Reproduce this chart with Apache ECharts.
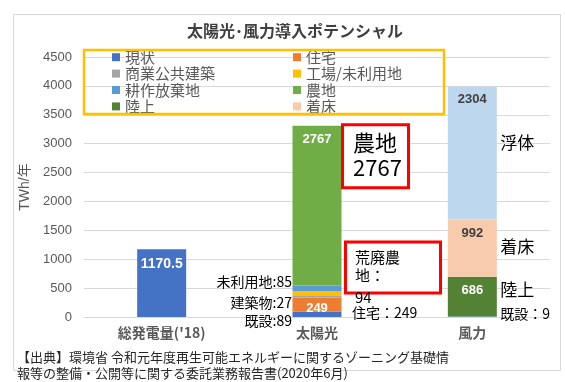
<!DOCTYPE html>
<html>
<head>
<meta charset="utf-8">
<script src="https://cdn.jsdelivr.net/npm/echarts@6/dist/echarts.min.js"></script>
<style>html,body{margin:0;padding:0;background:#fff}#c{width:565px;height:382px}</style>
</head>
<body>
<div id="c"></div>
<script>
const categories = ["総発電量('18)", '太陽光', '風力'];
const yTicks = [0, 500, 1000, 1500, 2000, 2500, 3000, 3500, 4000, 4500];
const genjo = [1170.5, 89, 9];
const jutaku = [null, 249, null];
const shogyo = [null, 27, null];
const kojo = [null, 85, null];
const kosaku = [null, 94, null];
const nochi = [null, 2767, null];
const rikujo = [null, null, 686];
const chakusho = [null, null, 992];
const futai = [null, null, 2304];

const FONT = "'Liberation Sans', 'Noto Sans CJK JP', sans-serif";
const chart = echarts.init(document.getElementById('c'), null, {renderer: 'canvas'});

function lbl(color, pos, extra) {
  return Object.assign({show: true, position: pos || 'insideTop', distance: 7, color: color, fontWeight: 'bold', fontSize: 13, fontFamily: FONT}, extra || {});
}
function ser(name, data, color, label) {
  return {name: name, type: 'bar', stack: 'a', data: data, barWidth: 49, itemStyle: {color: color}, label: label || {show: false}, animation: false};
}

const option = {
  animation: false,
  textStyle: {fontFamily: FONT},
  title: {text: '太陽光･風力導入ポテンシャル', left: 182, top: 18, textStyle: {fontSize: 16, fontWeight: 'bold', color: '#404040', fontFamily: "'Noto Sans CJK JP', sans-serif"}},
  legend: [
    {left: 112, top: 49, orient: 'vertical', padding: 0, itemWidth: 8, itemHeight: 8, itemGap: 0, icon: 'rect', selectedMode: false,
     data: ['現状', '商業公共建築', '耕作放棄地', '陸上'], textStyle: {fontSize: 15, color: '#595959', lineHeight: 16.4, fontFamily: "'Noto Sans CJK JP', sans-serif"}},
    {left: 293, top: 49, orient: 'vertical', padding: 0, itemWidth: 8, itemHeight: 8, itemGap: 0, icon: 'rect', selectedMode: false,
     data: ['住宅', '工場/未利用地', '農地', '着床'], textStyle: {fontSize: 15, color: '#595959', lineHeight: 16.4, fontFamily: "'Noto Sans CJK JP', sans-serif"}}
  ],
  grid: {left: 84, right: 15, top: 57, bottom: 65, containLabel: false},
  xAxis: {type: 'category', data: categories, axisTick: {show: false}, axisLine: {lineStyle: {color: '#D9D9D9'}},
    axisLabel: {margin: 9, fontSize: 14, fontWeight: 'bold', color: '#595959', fontFamily: "'Noto Sans CJK JP', sans-serif"}},
  yAxis: {type: 'value', min: yTicks[0], max: yTicks[yTicks.length - 1], interval: 500,
    name: 'TWh/年', nameLocation: 'middle', nameGap: 52, nameTextStyle: {fontSize: 14, color: '#595959'},
    axisLine: {show: false}, axisTick: {show: false},
    axisLabel: {margin: 12, fontSize: 13, color: '#595959', formatter: v => String(v)},
    splitLine: {lineStyle: {color: '#D9D9D9'}}},
  series: [
    ser('現状', genjo, '#4472C4', {show: true, position: 'insideTop', distance: 8, color: '#fff', fontWeight: 'bold', fontSize: 14,
      formatter: p => p.dataIndex === 0 ? String(p.value) : ''}),
    ser('住宅', jutaku, '#ED7D31', lbl('#fff', 'inside', {offset: [0, 4]})),
    ser('商業公共建築', shogyo, '#A5A5A5'),
    ser('工場/未利用地', kojo, '#FFC000'),
    ser('耕作放棄地', kosaku, '#5B9BD5'),
    ser('農地', nochi, '#70AD47', lbl('#fff')),
    ser('陸上', rikujo, '#548235', lbl('#fff')),
    ser('着床', chakusho, '#F8CBAD', lbl('#404040')),
    ser('浮体', futai, '#BDD7EE', lbl('#404040'))
  ]
};
chart.setOption(option);

const xs = chart.convertToPixel({xAxisIndex: 0}, categories[1]);
const xw = chart.convertToPixel({xAxisIndex: 0}, categories[2]);
const Y = v => chart.convertToPixel({yAxisIndex: 0}, v);
const solarTop = Y(genjo[1] + jutaku[1] + shogyo[1] + kojo[1] + kosaku[1] + nochi[1]);
const JP = "'Noto Sans CJK JP', sans-serif";
function txt(x, y, s, size, align, color) {
  return {type: 'text', x: x, y: y, style: {text: s, fontSize: size, fontFamily: JP, fill: color || '#000', align: align || 'left', verticalAlign: 'middle'}, z: 100};
}
const y0 = Y(0);
chart.setOption({
  graphic: [
    {type: 'rect', shape: {x: 13.5, y: 14.5, width: 547, height: 356}, style: {fill: 'none', stroke: '#D9D9D9', lineWidth: 1}, z: 0},
    {type: 'rect', shape: {x: 84, y: 50, width: 360, height: 64}, style: {fill: 'none', stroke: '#FFC000', lineWidth: 2.5}, z: 50},
    // red box 1
    {type: 'rect', shape: {x: xs + 25.5, y: solarTop - 1, width: 66, height: 63}, style: {fill: '#fff', stroke: '#FF0000', lineWidth: 3}, z: 60},
    txt(xs + 36, solarTop + 17, '農地', 22),
    txt(xs + 36, solarTop + 42, '2767', 22),
    // red box 2
    {type: 'rect', shape: {x: xs + 28.5, y: y0 - 75, width: 95, height: 51}, style: {fill: '#fff', stroke: '#FF0000', lineWidth: 3}, z: 60},
    txt(xs + 38, y0 - 60, '荒廃農', 15),
    txt(xs + 38, y0 - 42, '地：', 15),
    txt(xs + 38, y0 - 20, String(kosaku[1]), 15),
    txt(xs + 35, y0 - 4, '住宅：' + jutaku[1], 14),
    // left annotations
    txt(xs - 25, y0 - 35, '未利用地:' + kojo[1], 14, 'right'),
    txt(xs - 25, y0 - 14, '建築物:' + shogyo[1], 14, 'right'),
    txt(xs - 25, y0 + 4, '既設:' + genjo[1], 14, 'right'),
    // wind annotations
    txt(xw + 28, y0 - 174, '浮体', 17),
    txt(xw + 28, y0 - 70, '着床', 17),
    txt(xw + 28, y0 - 27, '陸上', 17),
    txt(xw + 28, y0 - 3, '既設：' + genjo[2], 14),
    // footer
    txt(17, 357, '【出典】環境省 令和元年度再生可能エネルギーに関するゾーニング基礎情', 13, 'left', '#262626'),
    txt(17, 373, '報等の整備・公開等に関する委託業務報告書(2020年6月)', 13, 'left', '#262626')
  ]
});
</script>
</body>
</html>
